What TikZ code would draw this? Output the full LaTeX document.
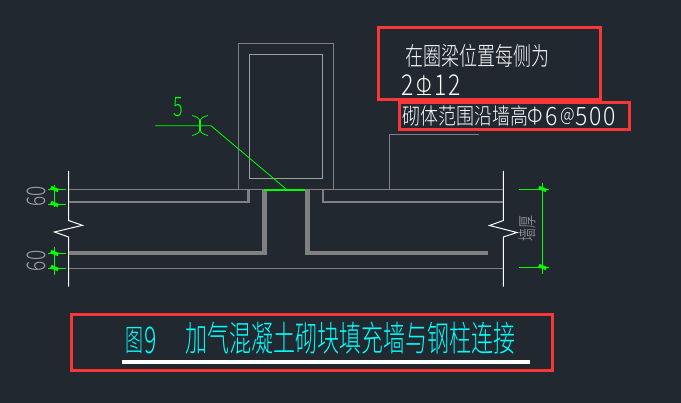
\documentclass[tikz,border=0pt]{standalone}
\usepackage{fontspec}
\newfontfamily\cjk{Noto Sans CJK SC}[UprightFont=* Light]
\newfontfamily\cjkwide{Noto Sans CJK SC}[UprightFont=* Light,LetterSpace=9]
\definecolor{bgc}{HTML}{212830}
\definecolor{redc}{HTML}{F83838}
\definecolor{grayc}{HTML}{808080}
\definecolor{lgray}{HTML}{A0A0A0}
\definecolor{greenc}{HTML}{00FF00}
\definecolor{cyanc}{HTML}{00FFFF}
\newcommand{\cadtext}[3]{\scalebox{1}[#2]{\cjk\fontsize{#1}{#1}\selectfont #3}}
\newcommand{\cadwide}[3]{\scalebox{1}[#2]{\cjkwide\fontsize{#1}{#1}\selectfont #3}}
\tikzset{
  redbox/.style={draw=redc,line width=3pt},
  thinwall/.style={draw=grayc,line width=1pt},
  midwall/.style={draw=grayc,line width=2.2pt},
  thickwall/.style={draw=grayc,line width=4.6pt},
  breakline/.style={draw=white,line width=1pt},
  greenline/.style={draw=greenc,line width=1pt},
  tick/.style={draw=greenc,line width=3.4pt},
  label/.style={inner sep=0pt,anchor=west},
}
\begin{document}
\begin{tikzpicture}[x=1pt,y=-1pt]
\useasboundingbox (0,0) rectangle (681,403);
\fill[bgc] (0,0) rectangle (681,403);
% column
\draw[thinwall] (238.5,189.3) -- (238.5,43.5) -- (333.5,43.5) -- (333.5,189.3);
\draw[draw=lgray,line width=1pt] (249.3,54.3) rectangle (322.7,178.3);
% break lines
\draw[breakline] (68.5,171) -- (68.5,220.5) -- (82.5,225.3) -- (54.5,232) -- (68.5,237) -- (68.5,286.7);
\draw[breakline] (503.3,171) -- (503.3,220.5) -- (489.5,225.5) -- (517,232.5) -- (503.3,237) -- (503.3,286.7);
% walls
\draw[thinwall] (68.5,189.3) -- (503.3,189.3);
\draw[thinwall] (68.5,268.3) -- (503.3,268.3);
\draw[midwall] (68.5,201.8) -- (248.5,201.8) -- (248.5,189.3);
\draw[midwall] (503.3,201.8) -- (323.3,201.8) -- (323.3,189.3);
\draw[thickwall] (68.5,253) -- (264.5,253) -- (264.5,189.5);
\draw[thickwall] (488,253) -- (307.5,253) -- (307.5,189.5);
% weld
\draw[greenc,line width=2pt] (264,190) -- (305,190);
\draw[greenline,line width=.8pt] (286,189) -- (211,125.7) -- (155,125.7);
\draw[greenc,line width=2pt] (200,120) -- (200,130);
\draw[greenline,line width=.8pt] (192,115.5) .. controls (196,116.5) and (200,118) .. (200,122) .. controls (200,118) and (204,116.5) .. (208,115.5);
\draw[greenline,line width=.8pt] (192,135.5) .. controls (196,134.5) and (200,133) .. (200,129) .. controls (200,133) and (204,134.5) .. (208,135.5);
\node[label,text=greenc] at (173.5,107) {\cadtext{18}{1.5}{5}};
% left dimensions
\draw[greenline] (48,189.3) -- (66,189.3) (48,204.3) -- (66,204.3) (48,253.3) -- (66,253.3) (48,268.3) -- (66,268.3);
\draw[greenline] (54.3,185) -- (54.3,207) (54.3,247) -- (54.3,275);
\foreach \y in {189.3,204.3,253.3,268.3}
  \draw[tick] (50.8,\y-1.8) -- (58.3,\y+1.2);
\node[text=lgray,rotate=90,inner sep=0pt] at (36.5,196.8) {\cadtext{19}{1.35}{60}};
\node[text=lgray,rotate=90,inner sep=0pt] at (36.5,261) {\cadtext{19}{1.35}{60}};
% right dimension
\draw[greenline] (519,189.3) -- (549,189.3) (519,267.3) -- (549,267.3);
\draw[greenc,line width=1.2pt] (542.3,183.3) -- (542.3,274.3);
\foreach \y in {189.3,267.3}
  \draw[tick] (538.8,\y-1.8) -- (546.3,\y+1.2);
\node[text=lgray,rotate=90,inner sep=0pt] at (527,229) {\cadtext{13}{1.45}{墙厚}};
% leader of the notes
\draw[thinwall] (479,134.3) -- (389.3,134.3) -- (389.3,189);
% notes
\draw[redbox] (378.3,27.3) rectangle (600.7,100);
\draw[redbox] (399.3,102.5) rectangle (629.3,129.3);
\draw[redbox] (71,314.3) rectangle (552.3,370.7);
\node[label,text=white] at (405,56) {\cadtext{18}{1.4}{在圈梁位置每侧为}};
\node[label,text=white] at (401,85.5) {\cadtext{23}{1.25}{2}};
\node[label,text=white] at (416.5,85.5) {\cadtext{20}{1.25}{Φ}};
\node[label,text=white] at (434,85.5) {\cadwide{23}{1.25}{12}};
\draw[white,line width=.7pt] (417,94.5) -- (431,94.5);
\node[label,text=white] at (402,116) {\cadtext{18}{1.25}{砌体范围沿墙高}};
\node[label,text=white] at (527,116.5) {\cadtext{20}{1.15}{Φ}};
\node[label,text=white] at (545,116.5) {\cadtext{23}{1.1}{6}};
\node[label,text=white] at (560,116.5) {\cadtext{16}{1.2}{@}};
\node[label,text=white] at (575,116.5) {\cadwide{23}{1.1}{500}};
\node[label,text=cyanc] at (125.5,340.5) {\cadtext{18}{1.7}{图}};
\node[label,text=cyanc] at (144.5,340.5) {\cadtext{23}{1.6}{9}};
\node[label,text=cyanc] at (185,338.5) {\cadtext{22}{1.6}{加气混凝土砌块填充墙与钢柱连接}};
\draw[white,line width=4pt] (122,361.7) -- (530,361.7);
\end{tikzpicture}
\end{document}
